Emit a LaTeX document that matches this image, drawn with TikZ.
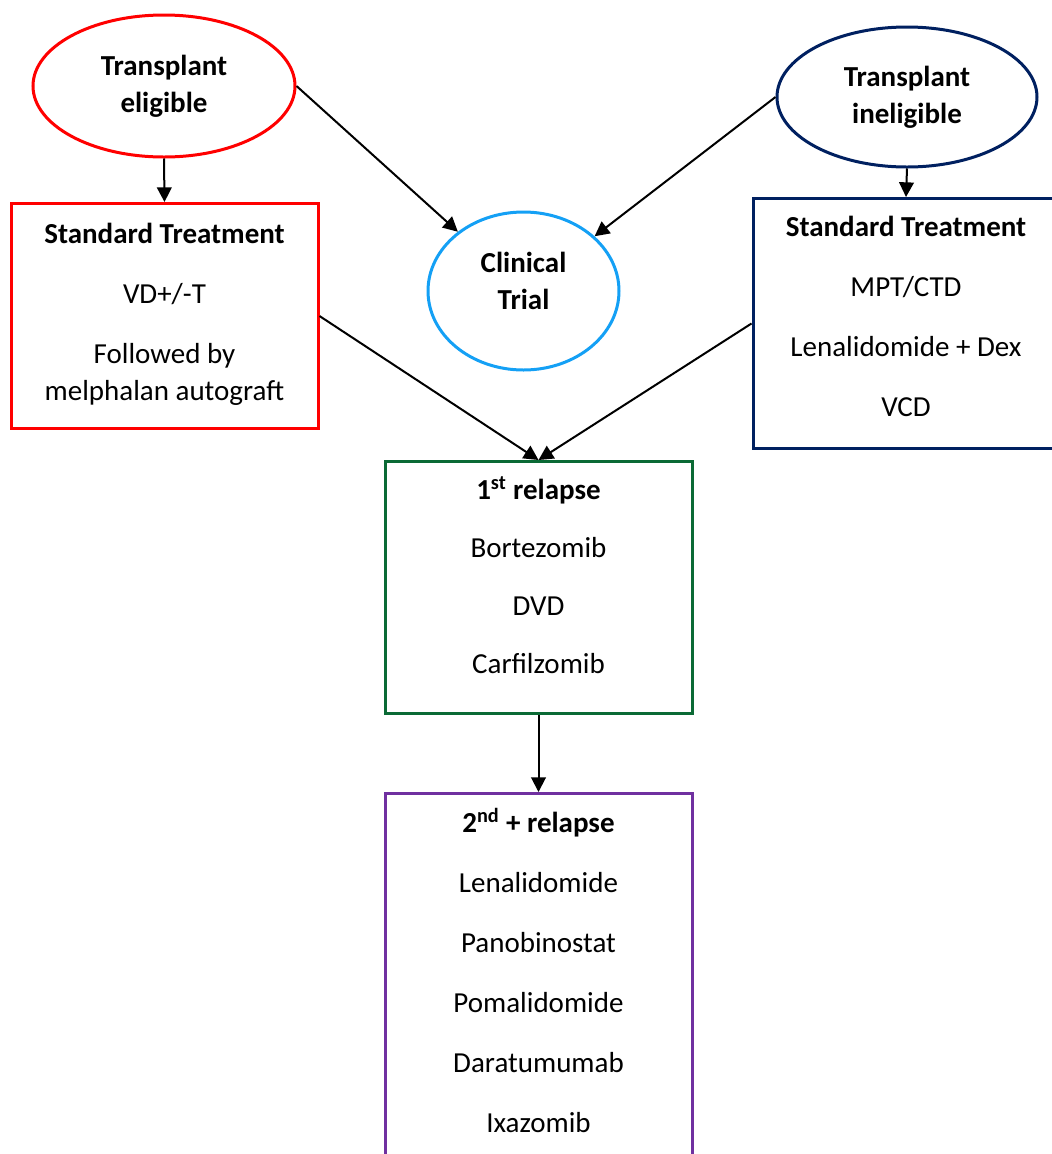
\documentclass[tikz,border=0pt]{standalone}
\usepackage{fontspec}
\setmainfont{Carlito}
\usetikzlibrary{shapes.geometric,arrows.meta}
\definecolor{eligred}{HTML}{FF0000}
\definecolor{inelignavy}{HTML}{002060}
\definecolor{trialblue}{HTML}{14A0F5}
\definecolor{relgreen}{HTML}{0B6A35}
\definecolor{relpurple}{HTML}{7030A0}
% box text: height, width, gap between items, top gap, lines
\newcommand{\boxlines}[5]{\parbox[t][#1][t]{#2}{\centering\setlength{\parskip}{#3}\vspace*{#4}#5}}

\begin{document}
\begin{tikzpicture}[x=0.75pt,y=0.75pt,yscale=-1,
  every node/.style={font=\fontsize{21.75}{27.75}\selectfont},
  oval/.style={ellipse, draw, line width=2.25pt, inner sep=0pt, align=center, font=\fontsize{21.75}{27.75}\selectfont\bfseries},
  plan/.style={rectangle, draw, line width=2.25pt, inner sep=0pt, anchor=north},
  link/.style={-{Triangle[length=11pt,width=11pt]}, line width=1.5pt}]
\useasboundingbox (0,0) rectangle (1051,1154);
\node[oval, draw=eligred, minimum width=196.5pt, minimum height=106.5pt] (elig) at (164,86) {Transplant\\eligible};
\node[oval, draw=inelignavy, minimum width=195pt, minimum height=105pt] (inelig) at (907,97) {Transplant\\ineligible};
\node[oval, draw=trialblue, minimum width=143.25pt, minimum height=118.5pt] (trial) at (523.5,291) {Clinical\\Trial\rule[-15pt]{0pt}{15pt}};
\node[plan, draw=eligred] (stdelig) at (164.5,202) {\boxlines{168.75pt}{230.25pt}{17.25pt}{-2.75pt}{\textbf{Standard Treatment}\par VD+/-T\par Followed by\\melphalan autograft}};
\node[plan, draw=inelignavy] (stdinelig) at (906,197) {\boxlines{187.5pt}{229.5pt}{17.25pt}{-4.25pt}{\textbf{Standard Treatment}\par MPT/CTD\par Lenalidomide + Dex\par VCD}};
\node[plan, draw=relgreen] (rel1) at (538.5,460) {\boxlines{189pt}{230.25pt}{15.75pt}{-4.25pt}{\textbf{1\textsuperscript{st} relapse}\par Bortezomib\par DVD\par Carfilzomib}};
\node[plan, draw=relpurple] (rel2) at (538.5,792) {\boxlines{315pt}{230.25pt}{17.25pt}{-6.5pt}{\textbf{2\textsuperscript{nd} + relapse}\par Lenalidomide\par Panobinostat\par Pomalidomide\par Daratumumab\par Ixazomib}};
\draw[link] (elig.south) -- (stdelig.north);
\draw[link] (elig.east) -- (trial);
\draw[link] (inelig.west) -- (trial);
\draw[link] (inelig.south) -- (stdinelig.north);
\draw[link] (stdelig.east) -- (rel1.north);
\draw[link] (stdinelig.west) -- (rel1.north);
\draw[link] (rel1.south) -- (rel2.north);
\end{tikzpicture}
\end{document}
